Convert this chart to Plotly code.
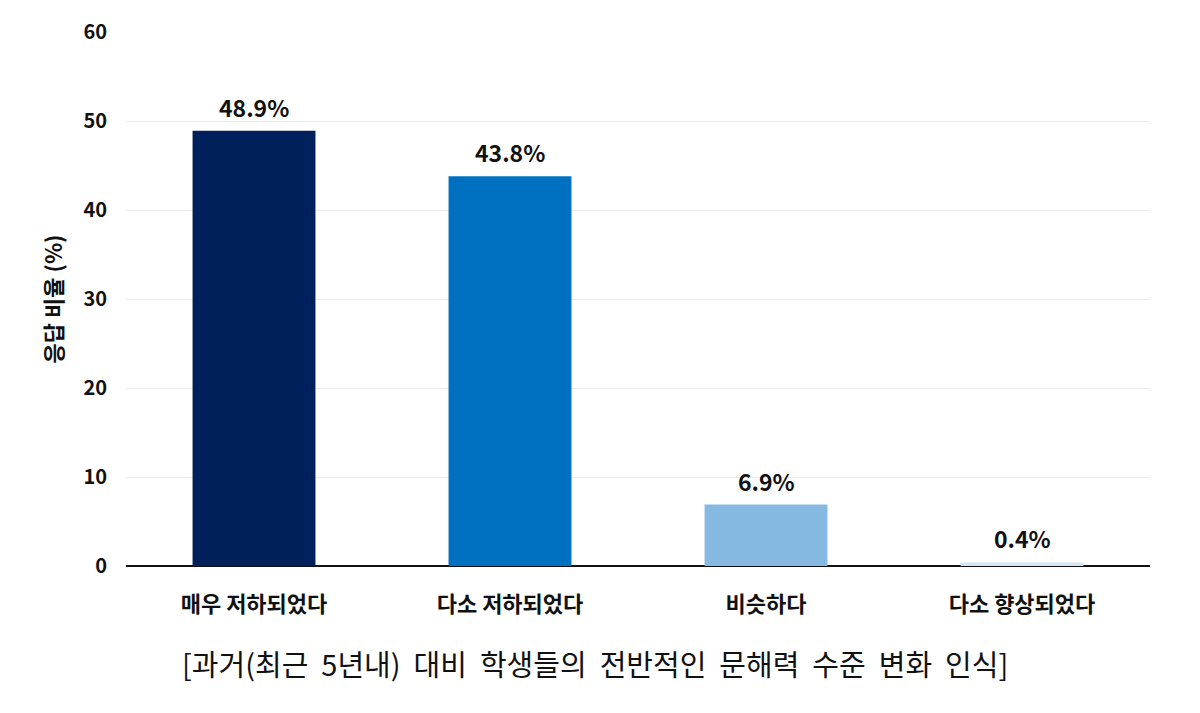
import plotly.graph_objects as go

categories = ["매우 저하되었다", "다소 저하되었다", "비슷하다", "다소 향상되었다"]
values = [48.9, 43.8, 6.9, 0.4]
colors = ["#00205b", "#0070c0", "#86b9e1", "#d3e6f5"]
labels = ["48.9%", "43.8%", "6.9%", "0.4%"]
title_text = "[과거(최근 5년내) 대비 학생들의 전반적인 문해력 수준 변화 인식]"

font_family = "Noto Sans CJK KR"

fig = go.Figure(go.Bar(
    x=categories, y=values,
    marker=dict(color=colors, line=dict(width=0)),
    width=0.48, cliponaxis=False,
))

annotations = []
for c, v, t in zip(categories, values, labels):
    annotations.append(dict(x=c, y=v, xref="x", yref="y", text=t, showarrow=False,
                            yanchor="middle", yshift=24,
                            font=dict(family=font_family, size=23, color="#111111", weight="bold")))

title_disp = title_text.replace(" ", "\u00a0\u00a0")
annotations.append(dict(text=title_disp, x=(595 - 126) / 1024, xref="paper",
                        y=-(663 - 566) / (566 - 32), yref="paper", yanchor="middle",
                        showarrow=False, font=dict(size=29, family=font_family, color="#111111")))

fig.update_layout(
    width=1200, height=713,
    margin=dict(l=126, r=50, t=32, b=147),
    paper_bgcolor="white", plot_bgcolor="white",
    showlegend=False,
    font=dict(family=font_family, color="#111111"),
    xaxis=dict(showgrid=False, showline=False, ticks="",
               tickfont=dict(size=22, weight="bold"), ticklabelstandoff=23),
    yaxis=dict(range=[0, 60], dtick=10, showgrid=True, gridcolor="#ececec",
               zeroline=True, zerolinecolor="#111111", zerolinewidth=2,
               tickfont=dict(size=20, weight="bold"), ticklabelstandoff=18,
               title=dict(text="응답 비율 (%)", font=dict(size=22, weight="bold"), standoff=14)),
    annotations=annotations,
)
fig.write_html("out.html")
